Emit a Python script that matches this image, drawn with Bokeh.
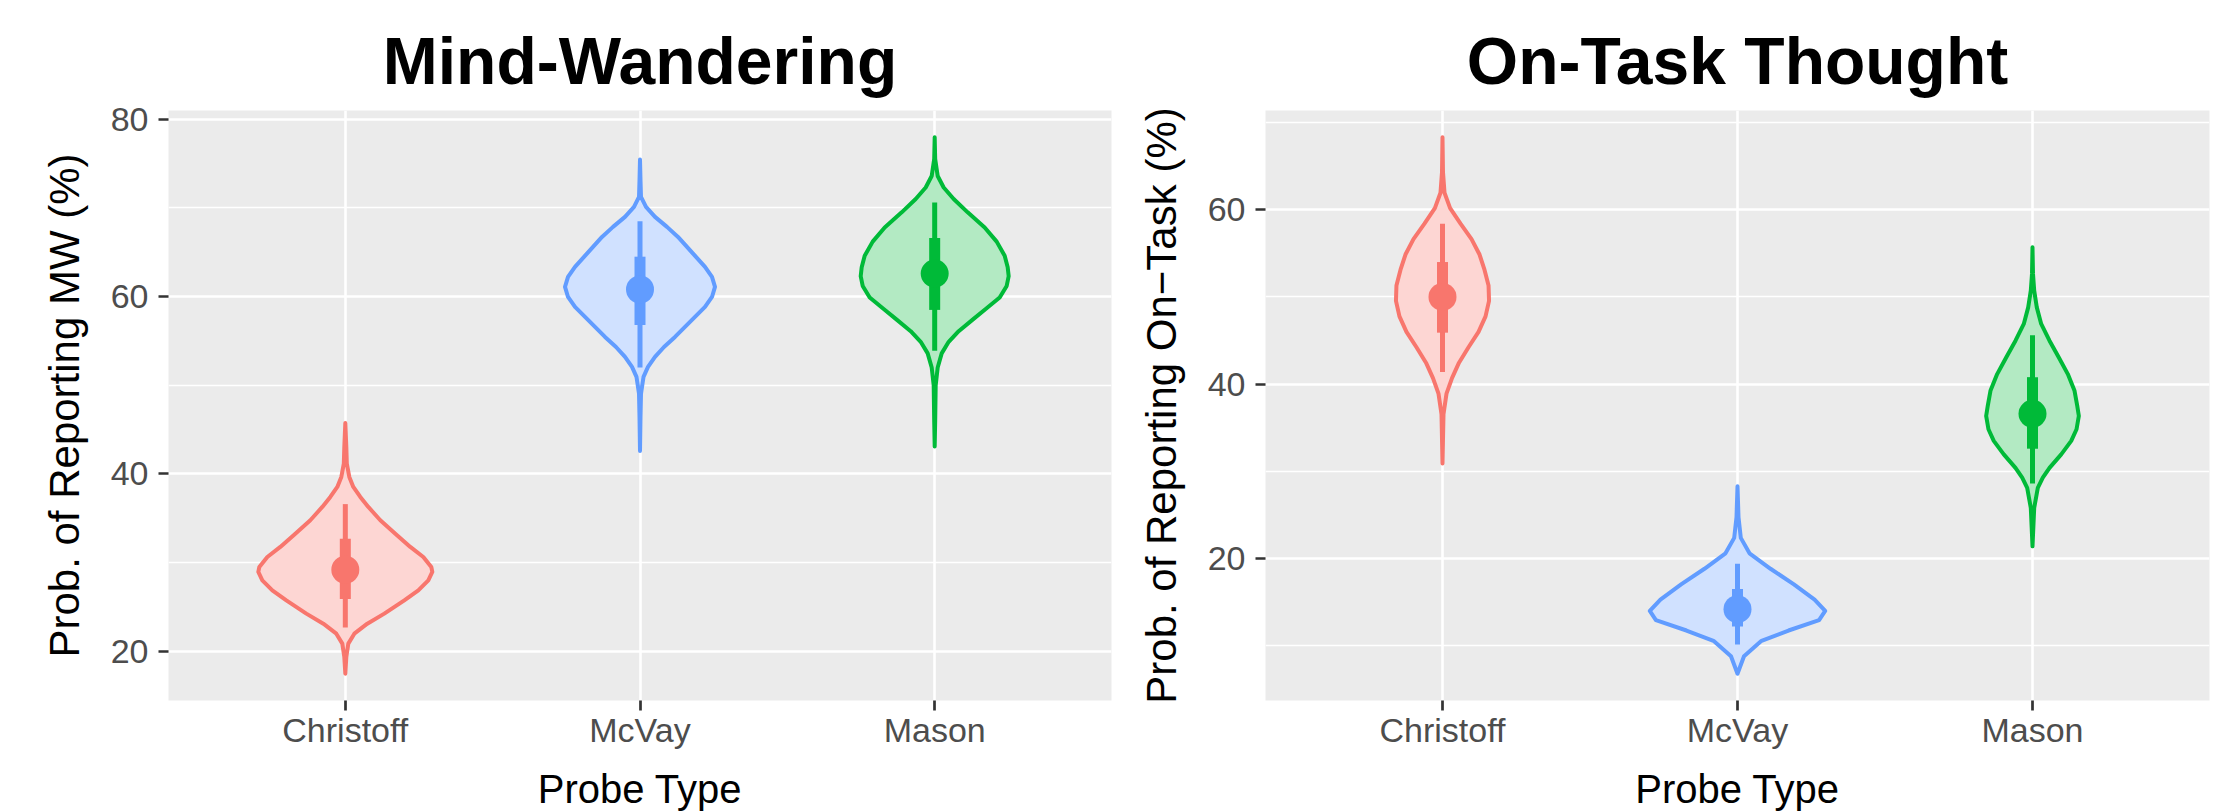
from bokeh.plotting import figure
from bokeh.models import Range1d, FixedTicker
from bokeh.layouts import row
from bokeh.embed import file_html
from bokeh.resources import INLINE

categories = ["Christoff", "McVay", "Mason"]
hue = ["#F8766D", "#619CFF", "#00BA38"]
hue_fill = ["#FDD6D3", "#D0E1FF", "#B3EAC3"]

# ---- Mind-Wandering: violin profiles (y = %, d = relative density) ----
mw_christoff_y = [45.75, 43.05, 41.17, 39.66, 38.54, 37.41, 36.28, 34.78, 33.27, 31.77, 30.64,
                  29.51, 28.95, 28.01, 26.88, 25.75, 24.25, 23.12, 21.99, 20.87, 19.36, 17.48]
mw_christoff_d = [0.0, 0.01, 0.015, 0.04, 0.08, 0.15, 0.23, 0.35, 0.50, 0.65, 0.78,
                  0.86, 0.87, 0.83, 0.73, 0.59, 0.39, 0.22, 0.09, 0.03, 0.01, 0.0]
mw_mcvay_y = [75.45, 73.12, 71.24, 70.11, 68.99, 67.86, 66.73, 65.6, 64.47, 63.35, 62.22, 61.09,
              59.96, 58.84, 57.71, 56.58, 55.45, 54.32, 53.2, 52.07, 50.94, 49.06, 46.43, 42.6]
mw_mcvay_d = [0.0, 0.005, 0.01, 0.06, 0.15, 0.27, 0.38, 0.47, 0.56, 0.65, 0.72, 0.75,
              0.72, 0.65, 0.55, 0.45, 0.35, 0.24, 0.15, 0.08, 0.035, 0.01, 0.005, 0.0]
mw_mason_y = [77.96, 75.5, 73.6, 72.3, 71.0, 69.5, 67.8, 66.2, 64.6, 63.3, 62.3, 61.2, 59.9,
              58.6, 57.4, 56.1, 54.9, 53.6, 52.0, 50.0, 46.0, 43.1]
mw_mason_d = [0.0, 0.005, 0.03, 0.09, 0.19, 0.33, 0.50, 0.62, 0.70, 0.73, 0.74, 0.72, 0.65,
              0.51, 0.38, 0.24, 0.14, 0.07, 0.03, 0.01, 0.005, 0.0]

# point-interval summaries (median, 66% and 95% intervals)
mw_median = [29.2, 60.8, 62.6]
mw_lo66 = [25.9, 56.8, 58.5]
mw_hi66 = [32.7, 64.5, 66.6]
mw_lo95 = [22.7, 52.0, 53.9]
mw_hi95 = [36.6, 68.5, 70.6]

# ---- On-Task Thought ----
ot_christoff_y = [68.3, 64.3, 61.95, 60.18, 58.41, 56.63, 54.86, 53.09, 51.32, 49.55, 47.77,
                  46.0, 44.23, 42.46, 40.69, 38.91, 36.55, 30.9]
ot_christoff_d = [0.0, 0.005, 0.02, 0.076, 0.18, 0.29, 0.37, 0.42, 0.46, 0.465, 0.43,
                  0.36, 0.26, 0.165, 0.095, 0.04, 0.01, 0.0]
ot_mcvay_y = [28.28, 24.74, 22.37, 20.6, 18.83, 17.06, 15.29, 13.99, 12.93, 11.75, 10.57, 8.8, 6.8]
ot_mcvay_d = [0.0, 0.01, 0.033, 0.12, 0.33, 0.56, 0.77, 0.876, 0.815, 0.51, 0.24, 0.065, 0.0]
ot_mason_y = [55.7, 52.64, 50.72, 48.8, 46.9, 44.98, 43.06, 41.15, 39.23, 37.5, 36.35, 34.83,
              33.5, 31.95, 30.4, 29.27, 28.1, 25.8, 21.4]
ot_mason_d = [0.0, 0.005, 0.017, 0.043, 0.087, 0.17, 0.263, 0.353, 0.42, 0.447, 0.463, 0.44,
              0.387, 0.287, 0.17, 0.103, 0.053, 0.017, 0.0]

ot_median = [50.0, 14.2, 36.6]
ot_lo66 = [45.9, 12.2, 32.6]
ot_hi66 = [54.0, 16.5, 40.8]
ot_lo95 = [41.4, 10.15, 28.6]
ot_hi95 = [58.4, 19.4, 45.6]

DENS_SCALE = 100.0 / 294.7   # density unit -> category-axis half width
FONT = "Liberation Sans"


def build(title, ylabel, violins, med, lo66, hi66, lo95, hi95, yticks, yminor,
          border_left, border_right, frame_w):
    all_y = [v for ys, _ in violins for v in ys]
    lo, hi = min(all_y), max(all_y)
    pad = 0.05 * (hi - lo)
    p = figure(frame_width=frame_w, frame_height=590,
               x_range=Range1d(0.4, 3.6), y_range=Range1d(lo - pad, hi + pad),
               output_backend="svg", toolbar_location=None,
               min_border_left=border_left, min_border_right=border_right,
               min_border_top=110, min_border_bottom=111,
               background_fill_color="#EBEBEB", border_fill_color="white",
               outline_line_color=None)
    p.title.text = title
    p.title.align = "center"
    p.title.text_font = FONT
    p.title.text_font_style = "bold"
    p.title.text_font_size = "66px"
    p.title.text_color = "black"
    p.title.standoff = 26

    # grids
    p.xgrid.grid_line_color = "white"
    p.xgrid.grid_line_width = 2.6
    p.ygrid.grid_line_color = "white"
    p.ygrid.grid_line_width = 2.6
    p.ygrid.minor_grid_line_color = "white"
    p.ygrid.minor_grid_line_width = 1.3

    # axes
    p.xaxis.ticker = FixedTicker(ticks=[1, 2, 3])
    p.xaxis.major_label_overrides = {i + 1: c for i, c in enumerate(categories)}
    p.yaxis.ticker = FixedTicker(ticks=yticks, minor_ticks=yminor)
    for ax in (p.xaxis[0], p.yaxis[0]):
        ax.axis_line_color = None
        ax.major_tick_line_color = "#333333"
        ax.major_tick_line_width = 2.7
        ax.major_tick_in = 0
        ax.major_tick_out = 10
        ax.minor_tick_line_color = None
        ax.major_label_text_font = FONT
        ax.major_label_text_font_size = "34px"
        ax.major_label_text_color = "#4D4D4D"
        ax.axis_label_text_font = FONT
        ax.axis_label_text_font_style = "normal"
        ax.axis_label_text_color = "black"
    p.xaxis.axis_label = "Probe Type"
    p.xaxis.axis_label_text_font_size = "40px"
    p.xaxis.major_label_standoff = 0
    p.xaxis.axis_label_standoff = 15
    p.yaxis.axis_label = ylabel
    p.yaxis.axis_label_text_font_size = "42px"
    p.yaxis.major_label_standoff = 10
    p.yaxis.axis_label_standoff = 20

    for i, (ys, ds) in enumerate(violins):
        cx = i + 1
        xs = [cx + d * DENS_SCALE for d in ds] + [cx - d * DENS_SCALE for d in reversed(ds)]
        yy = list(ys) + list(reversed(ys))
        p.patch(xs, yy, fill_color=hue_fill[i], fill_alpha=1.0,
                line_color=hue[i], line_width=4, line_join="round")

    xpos = [1, 2, 3]
    p.segment(x0=xpos, y0=lo95, x1=xpos, y1=hi95, line_color=hue, line_width=5)
    p.segment(x0=xpos, y0=lo66, x1=xpos, y1=hi66, line_color=hue, line_width=11)
    p.scatter(x=xpos, y=med, size=28, fill_color=hue, line_color=hue, line_width=0)
    return p


p1 = build("Mind-Wandering", "Prob. of Reporting MW (%)",
           [(mw_christoff_y, mw_christoff_d), (mw_mcvay_y, mw_mcvay_d), (mw_mason_y, mw_mason_d)],
           mw_median, mw_lo66, mw_hi66, mw_lo95, mw_hi95,
           [20, 40, 60, 80], [30, 50, 70], 168, 9, 943)
p2 = build("On-Task Thought", "Prob. of Reporting On\u2212Task (%)",
           [(ot_christoff_y, ot_christoff_d), (ot_mcvay_y, ot_mcvay_d), (ot_mason_y, ot_mason_d)],
           ot_median, ot_lo66, ot_hi66, ot_lo95, ot_hi95,
           [20, 40, 60], [10, 30, 50, 70], 145, 6, 944)

layout = row(p1, p2)
open("out.html", "w").write(file_html(layout, INLINE))
